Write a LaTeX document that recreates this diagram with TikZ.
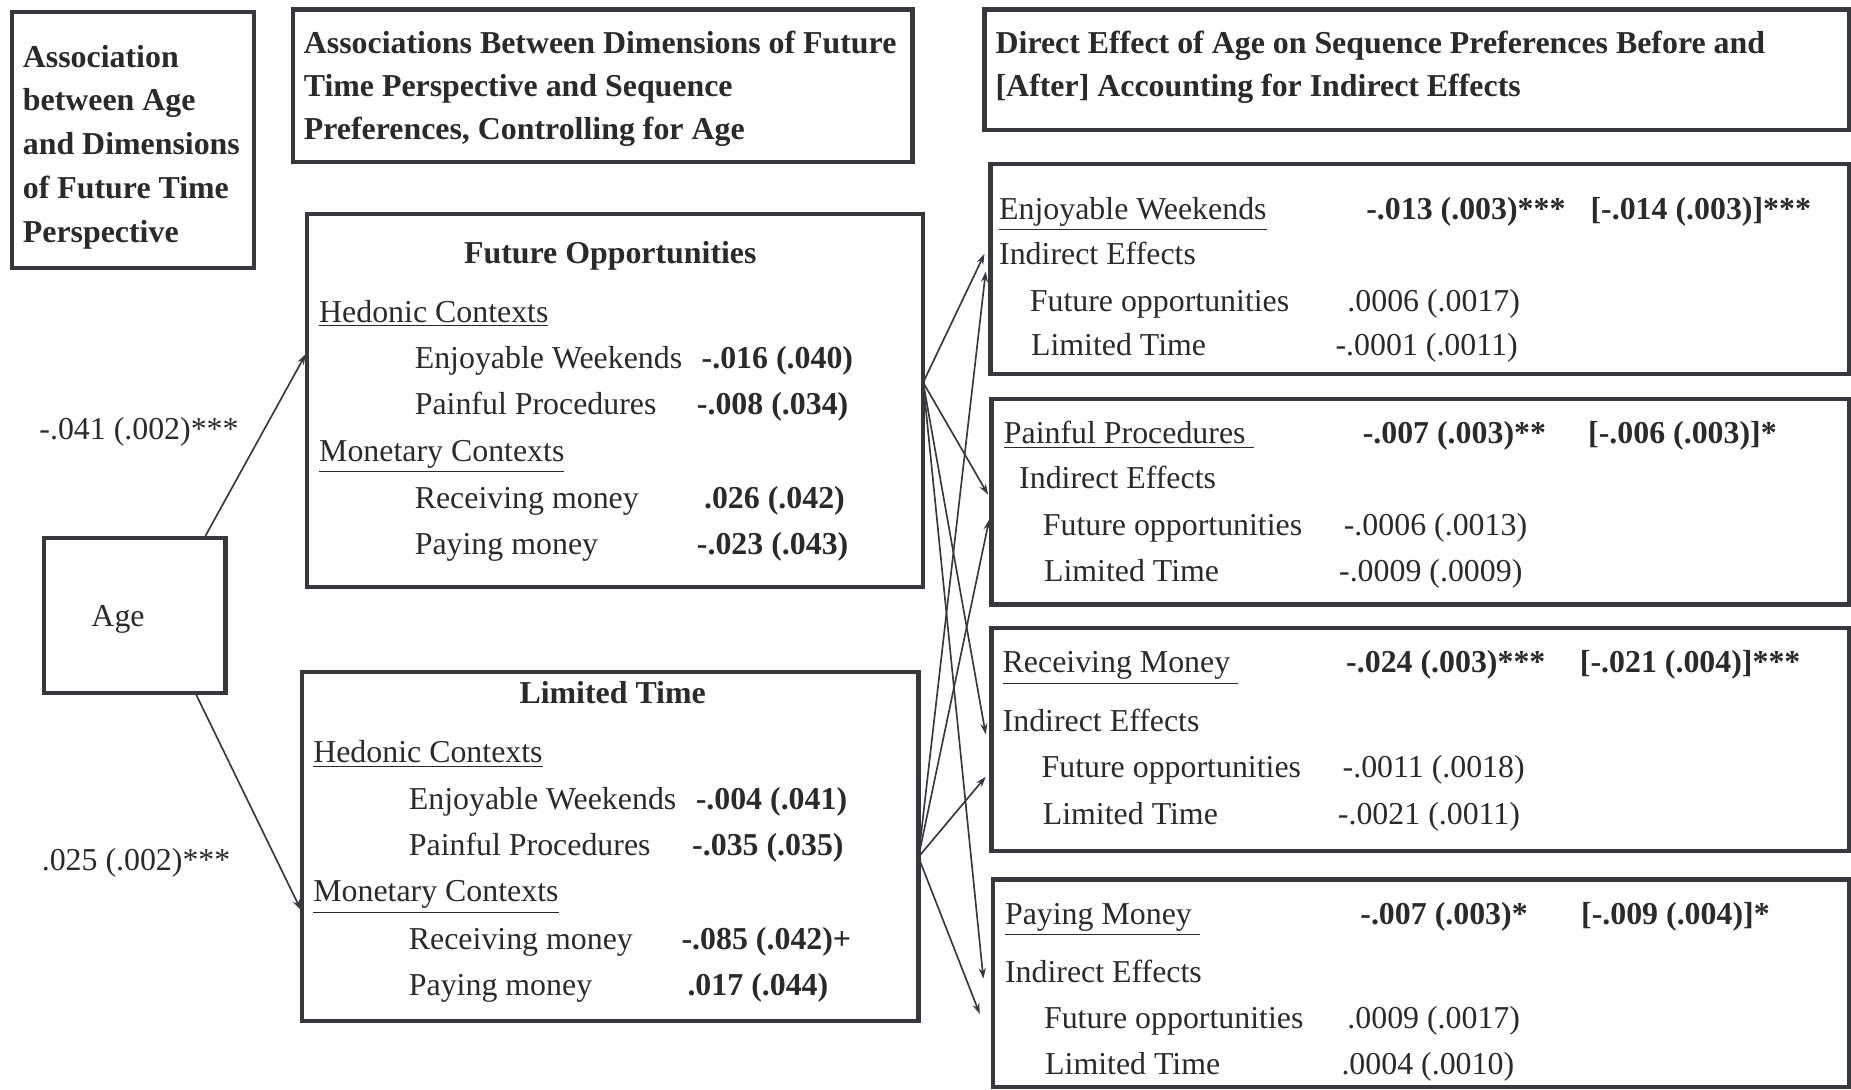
\documentclass[tikz,border=0pt]{standalone}
\usepackage{fontspec}
\setmainfont{Liberation Serif}
\usetikzlibrary{arrows.meta}
\definecolor{lc}{HTML}{38383C}
\definecolor{tc}{HTML}{2A2A2A}
\tikzset{
  box/.style={draw=lc, line width=1.8pt, inner sep=0pt, outer sep=0pt},
  t/.style={anchor=base west, inner sep=0pt, text=tc, font=\fontsize{13.5pt}{18pt}\selectfont},
  tb/.style={t, font=\fontsize{13.5pt}{18pt}\selectfont\bfseries},
  tc/.style={t, anchor=base},
  tcb/.style={tb, anchor=base},
  arr/.style={draw=lc, line width=0.7pt, -{Stealth[length=4.5pt,width=3pt]}}
}
\newcommand{\mybox}[5]{\node[box,anchor=north west,minimum width={(#4-#2)*0.5pt},minimum height={(#5-#3)*0.5pt}] (#1) at (#2,#3) {};}
\begin{document}
\begin{tikzpicture}[x=0.5pt,y=-0.5pt]
\useasboundingbox (0,0) rectangle (1568,923);
% boxes
\mybox{boxA}{10}{10}{215}{227}
\mybox{boxB}{248}{8}{773}{137}
\mybox{boxC}{834}{8}{1566}{110}
\mybox{fo}{260}{181}{782}{497}
\mybox{lt}{256}{569}{778}{865}
\mybox{age}{37}{456}{191}{587}
\mybox{r1}{839}{139}{1566}{317}
\mybox{r2}{840}{338}{1566}{512}
\mybox{r3}{840}{532}{1566}{721}
\mybox{r4}{841}{745}{1566}{921}
\begin{scope}[shift={(0,2)}]
% box A text
\node[tb] (a1) at (19,55) {Association};
\node[tb] (a2) at (19,92) {between Age};
\node[tb] (a3) at (19,129) {and Dimensions};
\node[tb] (a4) at (19,166) {of Future Time};
\node[tb] (a5) at (19,203) {Perspective};
% box B text
\node[tb] (b1) at (257,43) {Associations Between Dimensions of Future};
\node[tb] (b2) at (257,80) {Time Perspective and Sequence};
\node[tb] (b3) at (257,116) {Preferences, Controlling for Age};
% box C text
\node[tb] (c1) at (843,43) {Direct Effect of Age on Sequence Preferences Before and};
\node[tb] (c2) at (843,80) {[After] Accounting for Indirect Effects};
% Future Opportunities
\node[tcb] (fot) at (517,221) {Future Opportunities};
\node[t] (fo1) at (270,271) {\underline{Hedonic Contexts}};
\node[t] (fo2) at (351,310) {Enjoyable Weekends};
\node[tb] (fo2v) at (594,310) {-.016 (.040)};
\node[t] (fo3) at (351,349) {Painful Procedures};
\node[tb] (fo3v) at (590,349) {-.008 (.034)};
\node[t] (fo4) at (270,389) {\underline{Monetary Contexts}};
\node[t] (fo5) at (351,429) {Receiving money};
\node[tb] (fo5v) at (596,429) {.026 (.042)};
\node[t] (fo6) at (351,468) {Paying money};
\node[tb] (fo6v) at (590,468) {-.023 (.043)};
% Limited Time
\node[tcb] (ltt) at (519,594) {Limited Time};
\node[t] (lt1) at (265,644) {\underline{Hedonic Contexts}};
\node[t] (lt2) at (346,684) {Enjoyable Weekends};
\node[tb] (lt2v) at (589,684) {-.004 (.041)};
\node[t] (lt3) at (346,723) {Painful Procedures};
\node[tb] (lt3v) at (586,723) {-.035 (.035)};
\node[t] (lt4) at (265,762) {\underline{Monetary Contexts}};
\node[t] (lt5) at (346,802) {Receiving money};
\node[tb] (lt5v) at (577,802) {-.085 (.042)+};
\node[t] (lt6) at (346,841) {Paying money};
\node[tb] (lt6v) at (582,841) {.017 (.044)};
% Age
\node[tc] (aget) at (100,529) {Age};
\node[t] (lab1) at (33,370) {-.041 (.002)***};
\node[t] (lab2) at (35,735) {.025 (.002)***};
% R1
\node[t] (r1a) at (846,184) {\underline{Enjoyable Weekends}};
\node[tb] (r1b) at (1157,184) {-.013 (.003)***};
\node[tb] (r1c) at (1347,184) {[-.014 (.003)]***};
\node[t] (r1d) at (846,222) {Indirect Effects};
\node[t] (r1e) at (872,262) {Future opportunities};
\node[t] (r1f) at (1141,262) {.0006 (.0017)};
\node[t] (r1g) at (873,299) {Limited Time};
\node[t] (r1h) at (1131,299) {-.0001 (.0011)};
% R2
\node[t] (r2a) at (850,374) {\underline{Painful Procedures\ }};
\node[tb] (r2b) at (1154,374) {-.007 (.003)**};
\node[tb] (r2c) at (1345,374) {[-.006 (.003)]*};
\node[t] (r2d) at (863,412) {Indirect Effects};
\node[t] (r2e) at (883,452) {Future opportunities};
\node[t] (r2f) at (1138,452) {-.0006 (.0013)};
\node[t] (r2g) at (884,491) {Limited Time};
\node[t] (r2h) at (1134,491) {-.0009 (.0009)};
% R3
\node[t] (r3a) at (849,568) {\underline{Receiving Money\ }};
\node[tb] (r3b) at (1140,568) {-.024 (.003)***};
\node[tb] (r3c) at (1338,568) {[-.021 (.004)]***};
\node[t] (r3d) at (849,618) {Indirect Effects};
\node[t] (r3e) at (882,657) {Future opportunities};
\node[t] (r3f) at (1137,657) {-.0011 (.0018)};
\node[t] (r3g) at (883,696) {Limited Time};
\node[t] (r3h) at (1133,696) {-.0021 (.0011)};
% R4
\node[t] (r4a) at (851,781) {\underline{Paying Money\ }};
\node[tb] (r4b) at (1152,781) {-.007 (.003)*};
\node[tb] (r4c) at (1339,781) {[-.009 (.004)]*};
\node[t] (r4d) at (851,830) {Indirect Effects};
\node[t] (r4e) at (884,869) {Future opportunities};
\node[t] (r4f) at (1141,869) {.0009 (.0017)};
\node[t] (r4g) at (885,908) {Limited Time};
\node[t] (r4h) at (1136,908) {.0004 (.0010)};
\end{scope}
% connector coordinates
\coordinate (ageTop) at (174,454);
\coordinate (ageBot) at (165,586);
\coordinate (foIn) at (259,300);
\coordinate (ltIn) at (255,771);
\coordinate (foOut) at (782,324);
\coordinate (ltOut) at (778,726);
\coordinate (r1inA) at (834,215);
\coordinate (r1inB) at (835,230);
\coordinate (r2inA) at (837,419);
\coordinate (r2inB) at (838,440);
\coordinate (r3inA) at (835,622);
\coordinate (r3inB) at (835,658);
\coordinate (r4inA) at (833,829);
\coordinate (r4inB) at (830,859);
% arrows
\draw[arr] (ageTop) -- (foIn);
\draw[arr] (ageBot) -- (ltIn);
\draw[arr] (foOut) -- (r1inA);
\draw[arr] (foOut) -- (r2inA);
\draw[arr] (foOut) -- (r3inA);
\draw[arr] (foOut) -- (r4inA);
\draw[arr] (ltOut) -- (r1inB);
\draw[arr] (ltOut) -- (r2inB);
\draw[arr] (ltOut) -- (r3inB);
\draw[arr] (ltOut) -- (r4inB);
\end{tikzpicture}
\end{document}
